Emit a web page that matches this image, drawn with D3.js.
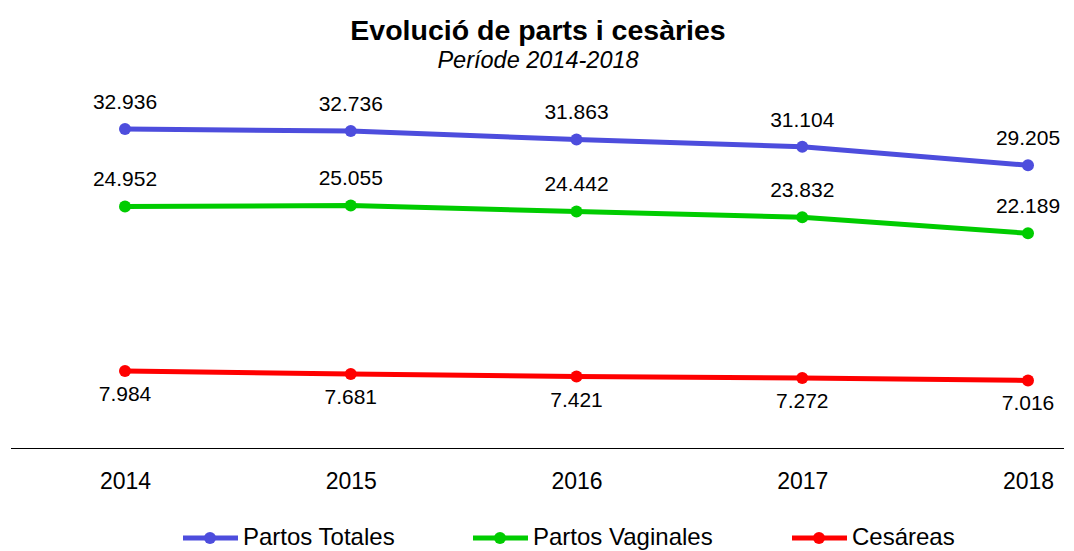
<!DOCTYPE html>
<html>
<head>
<meta charset="utf-8">
<script src="https://cdn.jsdelivr.net/npm/d3@7"></script>
<style>
  body { margin: 0; background: #fff; }
  text { font-family: "Liberation Sans", Arial, sans-serif; fill: #000; }
</style>
</head>
<body>
<div class="d3-container"></div>
<script>
const years = ["2014", "2015", "2016", "2017", "2018"];
const totales = [32936, 32736, 31863, 31104, 29205];
const vaginales = [24952, 25055, 24442, 23832, 22189];
const cesareas = [7984, 7681, 7421, 7272, 7016];
const seriesNames = ["Partos Totales", "Partos Vaginales", "Cesáreas"];
const colors = ["#4d4ddd", "#00cc00", "#ff0000"];

const width = 1074;
const height = 551;

const series = [
  {name: seriesNames[0], values: totales, color: colors[0], labelDy: -20},
  {name: seriesNames[1], values: vaginales, color: colors[1], labelDy: -20},
  {name: seriesNames[2], values: cesareas, color: colors[2], labelDy: 30}
];

const svg = d3.select(".d3-container")
  .append("svg")
  .attr("width", width)
  .attr("height", height)
  .attr("viewBox", [0, 0, width, height]);

const x = d3.scalePoint()
  .domain(years)
  .range([125, 1028]);

const y = d3.scaleLinear()
  .domain([0, 33000])
  .range([448.5, 448.5 - 33000 * 0.009699]);

const fmt = v => d3.format(",")(v).replace(/,/g, ".");

// title
svg.append("text")
  .attr("x", 538).attr("y", 40)
  .attr("text-anchor", "middle")
  .attr("font-size", 28.5)
  .attr("font-weight", "bold")
  .text("Evolució de parts i cesàries");

svg.append("text")
  .attr("x", 538).attr("y", 68)
  .attr("text-anchor", "middle")
  .attr("font-size", 23.5)
  .attr("font-style", "italic")
  .text("Període 2014-2018");

// x axis
svg.append("line")
  .attr("x1", 11).attr("x2", 1064)
  .attr("y1", 448.5).attr("y2", 448.5)
  .attr("stroke", "#000")
  .attr("stroke-width", 1.2);

const xAxis = svg.append("g")
  .attr("transform", "translate(0, 448.5)")
  .call(d3.axisBottom(x).tickSize(0).tickPadding(24));
xAxis.select(".domain").remove();
xAxis.selectAll("text")
  .attr("font-size", 23)
  .attr("font-family", "Liberation Sans, Arial, sans-serif")
  .attr("fill", "#000");

const line = d3.line()
  .x((d, i) => x(years[i]))
  .y(d => y(d));

series.forEach(s => {
  const g = svg.append("g");
  g.append("path")
    .attr("d", line(s.values))
    .attr("fill", "none")
    .attr("stroke", s.color)
    .attr("stroke-width", 5)
    .attr("stroke-linejoin", "round");
  g.selectAll("circle")
    .data(s.values)
    .join("circle")
    .attr("cx", (d, i) => x(years[i]))
    .attr("cy", d => y(d))
    .attr("r", 6)
    .attr("fill", s.color);
  g.selectAll("text")
    .data(s.values)
    .join("text")
    .attr("x", (d, i) => x(years[i]))
    .attr("y", d => y(d) + s.labelDy)
    .attr("text-anchor", "middle")
    .attr("font-size", 21)
    .text(d => fmt(d));
});

// legend (kept a bit higher so descenders stay inside the frame)
const legendX = [183, 473, 792];
series.forEach((s, i) => {
  const g = svg.append("g").attr("transform", `translate(${legendX[i]}, 538)`);
  g.append("line")
    .attr("x1", 0).attr("x2", 55)
    .attr("stroke", s.color)
    .attr("stroke-width", 5);
  g.append("circle")
    .attr("cx", 27).attr("r", 6)
    .attr("fill", s.color);
  g.append("text")
    .attr("x", 60).attr("y", 7)
    .attr("font-size", 24)
    .text(s.name);
});
</script>
</body>
</html>
